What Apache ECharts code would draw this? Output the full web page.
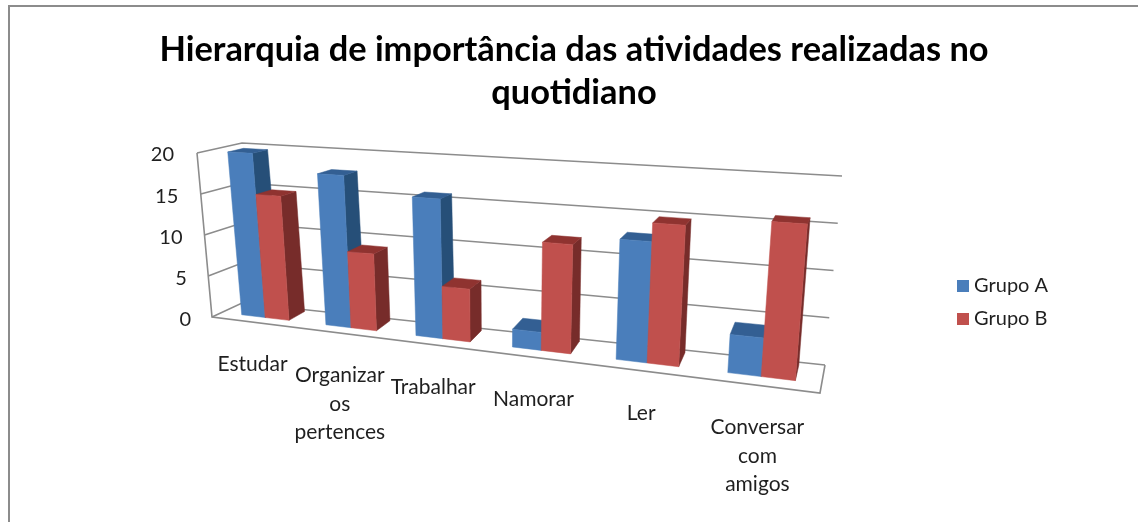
<!DOCTYPE html>
<html>
<head>
<meta charset="utf-8">
<style>
  html, body { margin: 0; padding: 0; background: #fff; }
  #chart { width: 1138px; height: 522px; }
</style>
<script src="https://cdn.jsdelivr.net/npm/echarts@6/dist/echarts.min.js"></script>
</head>
<body>
<div id="chart"></div>
<script>
// --- data ---
const categories = ['Estudar', 'Organizar\nos\npertences', 'Trabalhar', 'Namorar', 'Ler', 'Conversar\ncom\namigos'];
const grupoA = [20, 18, 16, 2, 13, 4];
const grupoB = [15, 9, 6, 12, 15, 16];
const ticks = [0, 5, 10, 15, 20];

const FONT = 'Lato, "Open Sans", sans-serif';
const BLUE = '#4a7ebb';
const RED = '#c0504d';

// corners of the 3D box on screen (the picture is a fake-3D Excel chart)
const BOX = {
  fbl: [212, 317], fbr: [820, 393], ftl: [197, 153], ftr: [837, 189],
  bbl: [242, 303], bbr: [825, 365], btl: [242, 143], btr: [842, 176]
};
const WARP = 1.24; // categories get wider towards the right

const lerp = (a, b, t) => [a[0] + (b[0] - a[0]) * t, a[1] + (b[1] - a[1]) * t];

// s: 0..1 along categories, v: 0..1 along values, w: 0 front .. 1 back
const project = (s, v, w) => {
  const t = s / (s + WARP * (1 - s));
  const front = lerp(lerp(BOX.fbl, BOX.fbr, t), lerp(BOX.ftl, BOX.ftr, t), v);
  const back = lerp(lerp(BOX.bbl, BOX.bbr, t), lerp(BOX.btl, BOX.btr, t), v);
  return lerp(front, back, w);
};

// bars get a little shallower with height, the box corners alone don't give that
const depthFront = (v) => 0.33 - 0.11 * v;
const depthBack = (v) => 0.9 - 0.32 * v;
const BAR_SPAN = 0.57; // share of a category taken by the two bars
const BAR_INSET = 0.005; // bars sit slightly right of the even split

// --- one bar drawn as three faces ---
const barRenderer = (slot, colors) => (params, api) => {
  const cs = params.coordSys;
  const top = api.coord([api.value(0), api.value(1)]);
  const bandW = api.size([1, 0])[0];
  const w = bandW * BAR_SPAN / 2;
  const x0 = top[0] - bandW * BAR_SPAN / 2 + slot * w;
  const inset = (s) => BAR_INSET + s * (1 - BAR_INSET);
  const s0 = inset((x0 - cs.x) / cs.width);
  const s1 = inset((x0 + w - cs.x) / cs.width);
  const v = (cs.y + cs.height - top[1]) / cs.height;
  const f0 = depthFront(0), b0 = depthBack(0), fv = depthFront(v), bv = depthBack(v);
  const face = (pts, fill) => ({
    type: 'polygon',
    shape: { points: pts },
    style: { fill: fill, stroke: fill, lineWidth: 0.5 }
  });
  return {
    type: 'group',
    children: [
      face([project(s1, 0, f0), project(s1, 0, b0), project(s1, v, bv), project(s1, v, fv)], colors.side),
      face([project(s0, v, fv), project(s1, v, fv), project(s1, v, bv), project(s0, v, bv)], colors.top),
      face([project(s0, 0, f0), project(s1, 0, f0), project(s1, v, fv), project(s0, v, fv)], colors.front)
    ]
  };
};

// --- floor and gridlines ---
const wallRenderer = (params, api) => {
  const cs = params.coordSys;
  const v = (cs.y + cs.height - api.coord([0, api.value(1)])[1]) / cs.height;
  const style = { stroke: '#8c8c8c', lineWidth: 1.6, fill: null };
  const children = [{
    type: 'polyline',
    shape: { points: [project(0, v, 0), project(0, v, 1), project(1, v, 1)] },
    style: style
  }];
  if (v === 0) {
    children.push({
      type: 'polyline',
      shape: { points: [project(0, 1, 0), project(0, 0, 0), project(1, 0, 0), project(1, 0, 1)] },
      style: style
    });
  }
  return { type: 'group', children: children };
};

// --- category labels follow the tilted floor ---
const labelRenderer = (params, api) => {
  const cs = params.coordSys;
  const x = api.coord([api.value(0), 0])[0];
  const p = project((x - cs.x) / cs.width, 0, 0);
  return {
    type: 'text',
    style: {
      x: p[0] - 1,
      y: p[1] + 28,
      text: categories[params.dataIndex],
      align: 'center',
      verticalAlign: 'top',
      font: '21px ' + FONT,
      lineHeight: 28.5,
      fill: '#1f1f1f'
    }
  };
};

// tick labels step along the slanted left wall
const tickRich = {};
ticks.forEach((t) => {
  tickRich['t' + t] = { padding: [0, t * 0.85, 0, 0], fontSize: 20, fontFamily: FONT, color: '#1f1f1f' };
});

const chart = echarts.init(document.getElementById('chart'));
chart.setOption({
  animation: false,
  backgroundColor: '#fff',
  title: {
    text: 'Hierarquia de importância das atividades realizadas no\nquotidiano',
    left: 574,
    top: 28,
    padding: 0,
    textAlign: 'center',
    textStyle: { fontFamily: FONT, fontWeight: 'bold', fontSize: 34.4, lineHeight: 43, color: '#000' }
  },
  legend: {
    orient: 'vertical',
    left: 957,
    top: 276,
    padding: 0,
    itemWidth: 12,
    itemHeight: 12,
    itemGap: 13,
    icon: 'rect',
    data: ['Grupo A', 'Grupo B'],
    textStyle: { fontFamily: FONT, fontSize: 20, color: '#1f1f1f' }
  },
  grid: { left: 212, top: 155, width: 608, height: 165 },
  xAxis: {
    type: 'category',
    data: categories,
    axisLine: { show: false },
    axisTick: { show: false },
    axisLabel: { show: false }
  },
  yAxis: {
    type: 'value',
    min: 0,
    max: 20,
    interval: 5,
    axisLine: { show: false },
    axisTick: { show: false },
    splitLine: { show: false },
    axisLabel: {
      margin: 21,
      formatter: (val) => '{t' + val + '|' + val + '}',
      rich: tickRich
    }
  },
  graphic: [{
    type: 'polyline',
    silent: true,
    shape: { points: [[9, 522], [9, 6], [1138, 6]] },
    style: { stroke: '#8c8c8c', lineWidth: 2, fill: null }
  }],
  series: [
    {
      type: 'custom',
      name: 'walls',
      silent: true,
      renderItem: wallRenderer,
      data: ticks.map((t) => [0, t]),
      z: 1
    },
    {
      type: 'custom',
      name: 'Grupo A',
      silent: true,
      itemStyle: { color: BLUE },
      renderItem: barRenderer(0, { front: BLUE, side: '#264f78', top: '#335f93' }),
      data: grupoA.map((v, i) => [i, v]),
      z: 2
    },
    {
      type: 'custom',
      name: 'Grupo B',
      silent: true,
      itemStyle: { color: RED },
      renderItem: barRenderer(1, { front: RED, side: '#772c2a', top: '#8f3330' }),
      data: grupoB.map((v, i) => [i, v]),
      z: 3
    },
    {
      type: 'custom',
      name: 'labels',
      silent: true,
      renderItem: labelRenderer,
      data: categories.map((c, i) => [i, 0]),
      z: 4
    }
  ]
});
</script>
</body>
</html>
